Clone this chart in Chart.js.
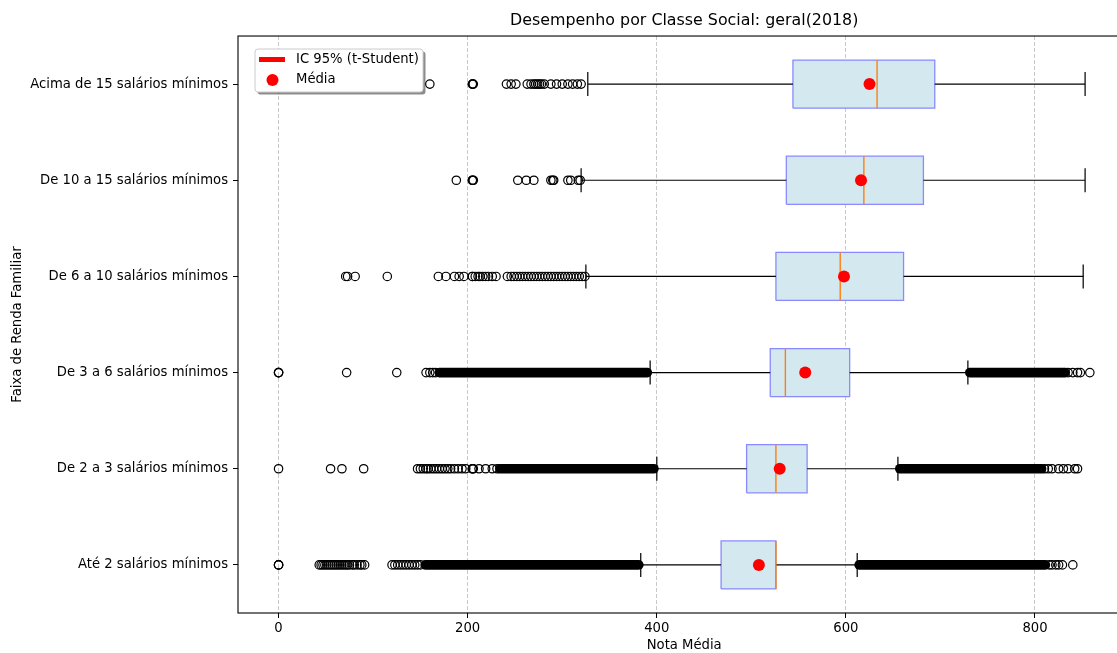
<!DOCTYPE html>
<html>
<head>
<meta charset="utf-8">
<script src="https://cdn.jsdelivr.net/npm/chart.js@4.4.1/dist/chart.umd.min.js"></script>
<style>
  html, body { margin: 0; padding: 0; background: #fff; overflow: hidden; }
  canvas { display: block; }
</style>
</head>
<body>
<canvas id="classChart" width="1150" height="653"></canvas>
<script>
// Categories from bottom (position 1) to top (position 6)
var categories = [
  'Até 2 salários mínimos',
  'De 2 a 3 salários mínimos',
  'De 3 a 6 salários mínimos',
  'De 6 a 10 salários mínimos',
  'De 10 a 15 salários mínimos',
  'Acima de 15 salários mínimos'
];

var whiskerLow  = [383, 400, 393, 325, 320, 327];
var q1          = [468, 495, 520, 526, 537, 544];
var median      = [526, 526, 536, 594, 619, 633];
var q3          = [526, 559, 604, 661, 682, 694];
var whiskerHigh = [612, 655, 729, 851, 853, 853];
var mean        = [508, 530, 557, 598, 616, 625];
var ciLow       = [507.7, 529.5, 556, 596, 613, 620];
var ciHigh      = [508.3, 530.5, 558, 600, 619, 630];

// Dense runs of outliers (drawn as a continuous stack of circles)
var lowBand  = [[155, 381], [234, 397], [170, 390], null, null, null];
var highBand = [[614, 811], [657, 807], [731, 832], null, null, null];

// Individual outliers
var outliers = [
  [0, 0, 0, 43, 45, 47, 49, 51, 53, 55, 57, 59, 61, 63, 65, 67, 69, 71, 73, 75, 78, 80, 83, 86, 88, 91,
   120, 123, 126, 129, 132, 135, 138, 141, 144, 147, 150, 815, 818, 822, 825, 829, 840],
  [0, 55, 67, 90, 147, 150, 153, 156, 158, 161, 164, 167, 170, 173, 176, 179, 182, 186, 190, 194, 198,
   205, 205, 206, 212, 219, 226, 231, 810, 814, 818, 825, 830, 835, 842, 845],
  [0, 0, 0, 72, 125, 156, 160, 163, 166, 835, 840, 845, 848, 858],
  [71, 73, 81, 115, 169, 177, 186, 191, 196, 205, 205, 208, 211, 213, 216, 219, 222, 226, 230, 242, 246,
   249, 252, 255, 258, 261, 264, 267, 270, 273, 276, 279, 282, 285, 288, 291, 294, 297, 300, 303, 306,
   309, 312, 315, 318, 321, 324],
  [188, 205, 205, 206, 253, 262, 270, 288, 290, 291, 306, 309, 317, 319],
  [160, 205, 205, 206, 241, 246, 251, 263, 267, 270, 272, 274, 276, 278, 281, 288, 294, 300, 306, 311, 316, 320]
];

var xTicks = [0, 200, 400, 600, 800];
var xMin = -42.9;
var xMax = 900.9;
var legendLabels = ['IC 95% (t-Student)', 'Média'];

Chart.defaults.font.family = "'DejaVu Sans', sans-serif";
Chart.defaults.color = '#000';

var baseSize = 13.2;
var boxHalf = 0.25;
var capHalf = 0.125;

// Straight segment / polyline dataset
var seg = function(pts, color, width, order, extra) {
  return Object.assign({
    type: 'line',
    data: pts,
    borderColor: color,
    borderWidth: width,
    pointRadius: 0,
    pointHoverRadius: 0,
    fill: false,
    tension: 0,
    order: order
  }, extra || {});
};

var datasets = [];
categories.forEach(function(name, i) {
  var p = i + 1;
  // box
  datasets.push(seg([
    { x: q1[i], y: p - boxHalf }, { x: q3[i], y: p - boxHalf },
    { x: q3[i], y: p + boxHalf }, { x: q1[i], y: p + boxHalf },
    { x: q1[i], y: p - boxHalf }
  ], 'rgba(120,120,255,0.85)', 1.3, 8, { fill: 'shape', backgroundColor: '#d4e9ef' }));
  // whiskers
  datasets.push(seg([{ x: whiskerLow[i], y: p }, { x: q1[i], y: p }], '#000', 1.2, 7));
  datasets.push(seg([{ x: q3[i], y: p }, { x: whiskerHigh[i], y: p }], '#000', 1.2, 7));
  // caps
  datasets.push(seg([{ x: whiskerLow[i], y: p - capHalf }, { x: whiskerLow[i], y: p + capHalf }], '#222', 1.4, 7));
  datasets.push(seg([{ x: whiskerHigh[i], y: p - capHalf }, { x: whiskerHigh[i], y: p + capHalf }], '#222', 1.4, 7));
  // median
  datasets.push(seg([{ x: median[i], y: p - boxHalf }, { x: median[i], y: p + boxHalf }], '#ff7f0e', 1.4, 5));
  // dense outlier runs
  [lowBand[i], highBand[i]].forEach(function(b) {
    if (b) {
      datasets.push(seg([{ x: b[0], y: p }, { x: b[1], y: p }], '#000', 9.6, 4, { borderCapStyle: 'round' }));
    }
  });
  // single outliers
  datasets.push({
    type: 'scatter',
    data: outliers[i].map(function(v) { return { x: v, y: p }; }),
    pointStyle: 'circle',
    pointRadius: 4.2,
    pointBorderWidth: 1.2,
    borderColor: '#000',
    backgroundColor: 'rgba(0,0,0,0)',
    order: 4
  });
  // confidence interval
  datasets.push(seg([{ x: ciLow[i], y: p }, { x: ciHigh[i], y: p }], '#ff0000', 4, 2));
});

// means
datasets.push({
  type: 'scatter',
  data: mean.map(function(m, i) { return { x: m, y: i + 1 }; }),
  pointStyle: 'circle',
  pointRadius: 6,
  borderWidth: 0,
  backgroundColor: '#ff0000',
  borderColor: '#ff0000',
  order: 1
});

// Axes frame (all four spines)
var framePlugin = {
  id: 'frame',
  afterDatasetsDraw: function(chart) {
    var ctx = chart.ctx;
    var a = chart.chartArea;
    ctx.save();
    ctx.strokeStyle = '#000';
    ctx.lineWidth = 1.1;
    ctx.strokeRect(a.left, a.top, a.right - a.left, a.bottom - a.top);
    ctx.restore();
  }
};

// Legend inside the axes, upper left, with shadow
var legendPlugin = {
  id: 'innerLegend',
  afterDraw: function(chart) {
    var ctx = chart.ctx;
    var a = chart.chartArea;
    var bx = a.left + 17;
    var by = a.top + 13;
    var bw = 168;
    var bh = 43;
    ctx.save();
    ctx.fillStyle = 'rgba(0,0,0,0.45)';
    ctx.beginPath();
    ctx.roundRect(bx + 2.5, by + 2.5, bw, bh, 3);
    ctx.fill();
    ctx.fillStyle = '#fff';
    ctx.strokeStyle = '#cccccc';
    ctx.lineWidth = 1;
    ctx.beginPath();
    ctx.roundRect(bx, by, bw, bh, 3);
    ctx.fill();
    ctx.stroke();

    // CI handle
    ctx.strokeStyle = '#ff0000';
    ctx.lineWidth = 5;
    ctx.beginPath();
    ctx.moveTo(bx + 4, by + 10.5);
    ctx.lineTo(bx + 30, by + 10.5);
    ctx.stroke();
    // mean handle
    ctx.fillStyle = '#ff0000';
    ctx.beginPath();
    ctx.arc(bx + 17.5, by + 31, 6, 0, Math.PI * 2);
    ctx.fill();

    ctx.fillStyle = '#000';
    ctx.font = baseSize + "px 'DejaVu Sans', sans-serif";
    ctx.textBaseline = 'middle';
    ctx.textAlign = 'left';
    ctx.fillText(legendLabels[0], bx + 41, by + 10.5);
    ctx.fillText(legendLabels[1], bx + 41, by + 31);
    ctx.restore();
  }
};

var ctx = document.getElementById('classChart').getContext('2d');
var classChart = new Chart(ctx, {
  type: 'scatter',
  data: { datasets: datasets },
  plugins: [framePlugin, legendPlugin],
  options: {
    responsive: false,
    animation: false,
    devicePixelRatio: 1,
    events: [],
    layout: { padding: { left: 0, top: 0, right: 19.6, bottom: 0 } },
    plugins: {
      legend: { display: false },
      tooltip: { enabled: false },
      title: {
        display: true,
        text: 'Desempenho por Classe Social: geral(2018)',
        color: '#000',
        fullSize: false,
        font: { size: 15.85, weight: 'normal' },
        padding: { top: 11.5, bottom: 5.5 }
      }
    },
    scales: {
      x: {
        type: 'linear',
        min: xMin,
        max: xMax,
        afterBuildTicks: function(scale) {
          scale.ticks = xTicks.map(function(v) { return { value: v }; });
        },
        afterFit: function(scale) { scale.height = 40; },
        grid: {
          color: '#c8c8c8',
          lineWidth: 1,
          drawTicks: true,
          tickColor: '#000',
          tickLength: 5,
          tickWidth: 1
        },
        border: { display: false, dash: [4, 2] },
        ticks: { color: '#000', font: { size: baseSize }, padding: 3, maxRotation: 0 },
        title: {
          display: true,
          text: 'Nota Média',
          color: '#000',
          font: { size: baseSize },
          padding: { top: 0, bottom: 0 }
        }
      },
      y: {
        type: 'linear',
        min: 0.5,
        max: 6.5,
        afterBuildTicks: function(scale) {
          scale.ticks = categories.map(function(c, i) { return { value: i + 1 }; });
        },
        afterFit: function(scale) { scale.width = 238; },
        grid: {
          drawOnChartArea: false,
          drawTicks: true,
          tickColor: '#000',
          tickLength: 5,
          tickWidth: 1
        },
        border: { display: false },
        ticks: {
          color: '#000',
          font: { size: baseSize },
          padding: 5,
          autoSkip: false,
          callback: function(v) { return categories[Math.round(v) - 1]; }
        },
        title: {
          display: true,
          text: 'Faixa de Renda Familiar',
          color: '#000',
          font: { size: baseSize },
          padding: { top: 9.5, bottom: 0 }
        }
      }
    }
  }
});
</script>
</body>
</html>
